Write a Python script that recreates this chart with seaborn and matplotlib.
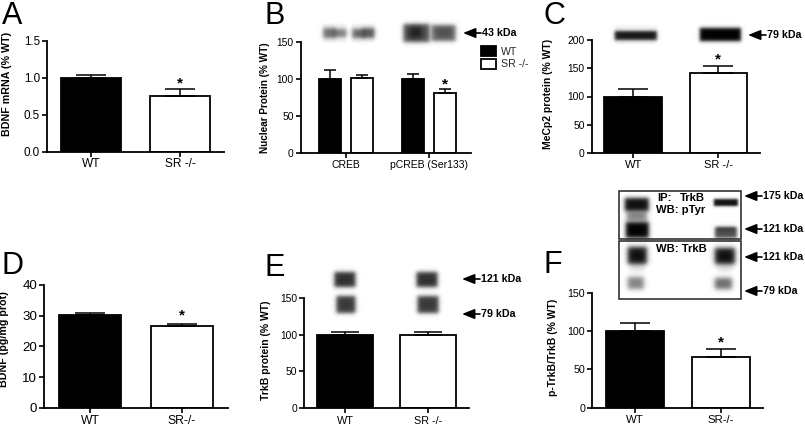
import numpy as np
import pandas as pd
import matplotlib
matplotlib.use("Agg")
import matplotlib.pyplot as plt
from matplotlib.patches import Rectangle
import seaborn as sns

W, H = 805, 428
sns.set_theme(style="ticks")
plt.rcParams["font.family"] = ["Liberation Sans", "DejaVu Sans"]

# ---- data ----
genotypes = ["WT", "SR -/-"]
genotypes_nospace = ["WT", "SR-/-"]
bdnf_mrna = [1.00, 0.76]
bdnf_mrna_err = [0.04, 0.09]
creb_groups = ["CREB", "pCREB (Ser133)"]
creb_wt = [100, 100]
creb_wt_err = [12, 7]
creb_sr = [101, 81]
creb_sr_err = [4, 5]
mecp2 = [100, 142]
mecp2_err = [14, 12]
bdnf_prot = [30.2, 26.5]
bdnf_prot_err = [0.8, 0.9]
trkb = [100, 100]
trkb_err = [4, 4]
ptrkb = [100, 66]
ptrkb_err = [10, 10]

fig = plt.figure(figsize=(W / 100, H / 100), dpi=100, facecolor="white")


def make_axes(left, right, top, bottom):
    ax = fig.add_axes([left / W, 1 - bottom / H, (right - left) / W, (bottom - top) / H])
    ax.set_facecolor("none")
    return ax


def style(ax, yticks, ytext, xsize, ysize, label, lx, ly, lsize=7.5, xpad=2):
    ax.set_ylim(yticks[0], yticks[-1])
    ax.set_yticks(yticks)
    ax.set_yticklabels(ytext)
    ax.tick_params(axis="y", labelsize=ysize, length=3.5, width=1.2, pad=1.5, color="black", labelcolor="black")
    ax.tick_params(axis="x", labelsize=xsize, length=3.5, width=1.2, pad=xpad, color="black", labelcolor="black")
    for s in ("top", "right"):
        ax.spines[s].set_visible(False)
    for s in ("left", "bottom"):
        ax.spines[s].set_linewidth(1.3)
        ax.spines[s].set_color("black")
    ax.set_xlabel("")
    ax.set_ylabel(label, fontsize=lsize, fontweight="bold", color="black")
    ax.yaxis.set_label_coords(lx / W, 1 - ly / H, transform=fig.transFigure)


def two_bars(ax, labels, values, errs, capsize, star_off, star_i=1):
    df = pd.DataFrame({"g": labels, "v": values})
    sns.barplot(data=df, x="g", y="v", hue="g", palette=["black", "white"], legend=False,
                width=0.675, errorbar=None, edgecolor="black", linewidth=1.3, ax=ax, order=labels)
    for i, (v, e) in enumerate(zip(values, errs)):
        ax.errorbar(i, v, yerr=[[0], [e]], color="black", elinewidth=1.1,
                    capsize=capsize, capthick=1.1, zorder=1)
    ax.annotate("*", (star_i, values[star_i] + errs[star_i]), xytext=(0, star_off),
                textcoords="offset points", ha="center", va="center",
                fontsize=11, fontweight="bold", color="black")


# A
axA = make_axes(47, 224, 40.7, 152)
two_bars(axA, genotypes, bdnf_mrna, bdnf_mrna_err, 11, 4)
axA.set_xlim(-0.5, 1.49)
style(axA, [0, 0.5, 1.0, 1.5], ["0.0", "0.5", "1.0", "1.5"], 8.6, 8.4, "BDNF mRNA (% WT)", 12, 84, 7.7, xpad=0.6)

# B
axB = make_axes(300.7, 470.7, 42, 153)
dfB = pd.DataFrame({"g": creb_groups * 2,
                    "k": ["WT"] * 2 + ["SR -/-"] * 2,
                    "v": creb_wt + creb_sr})
sns.barplot(data=dfB, x="g", y="v", hue="k", palette=["black", "white"], width=0.76, gap=0.30,
            errorbar=None, edgecolor="black", linewidth=1.3, ax=axB, legend=False)
offs = 31.5 / 83 / 2
for i in range(2):
    axB.errorbar(i - offs, creb_wt[i], yerr=[[0], [creb_wt_err[i]]], color="black",
                 elinewidth=1.1, capsize=4, capthick=1.1, zorder=1)
    axB.errorbar(i + offs, creb_sr[i], yerr=[[0], [creb_sr_err[i]]], color="black",
                 elinewidth=1.1, capsize=4, capthick=1.1, zorder=1)
axB.annotate("*", (1 + offs, creb_sr[1] + creb_sr_err[1]), xytext=(0, 3.2),
             textcoords="offset points", ha="center", va="center",
             fontsize=11, fontweight="bold", color="black")
axB.set_xlim(-0.543, 1.505)
style(axB, [0, 50, 100, 150], ["0", "50", "100", "150"], 7.5, 7.4, "Nuclear Protein (% WT)", 270, 98, 7.2, xpad=1.5)

# C
axC = make_axes(591.7, 760, 40, 153)
two_bars(axC, genotypes, mecp2, mecp2_err, 10.5, 5)
axC.set_xlim(-0.486, 1.49)
style(axC, [0, 50, 100, 150, 200], ["0", "50", "100", "150", "200"], 8, 7.4, "MeCp2 protein (% WT)", 553, 94, 7.5, xpad=1.5)

# D
axD = make_axes(44, 228, 285, 407.7)
two_bars(axD, genotypes_nospace, bdnf_prot, bdnf_prot_err, 11, 6)
axD.set_xlim(-0.5, 1.5)
style(axD, [0, 10, 20, 30, 40], ["0", "10", "20", "30", "40"], 8.7, 9.6, "BDNF (pg/mg prot)", 9, 339, 7.7)

# E
axE = make_axes(304, 469, 298, 408)
dfE = pd.DataFrame({"g": genotypes, "v": trkb})
sns.barplot(data=dfE, x="g", y="v", hue="g", palette=["black", "white"], legend=False, width=0.675,
            errorbar=None, edgecolor="black", linewidth=1.3, ax=axE, order=genotypes)
for i in range(2):
    axE.errorbar(i, trkb[i], yerr=[[0], [trkb_err[i]]], color="black", elinewidth=1.1,
                 capsize=10, capthick=1.1, zorder=1)
axE.set_xlim(-0.5, 1.5)
style(axE, [0, 50, 100, 150], ["0", "50", "100", "150"], 7.8, 7.4, "TrkB protein (% WT)", 271, 350, 7.5)

# F
axF = make_axes(592, 763, 292.7, 407.7)
two_bars(axF, genotypes_nospace, ptrkb, ptrkb_err, 10.5, 5)
axF.set_xlim(-0.5, 1.49)
style(axF, [0, 50, 100, 150], ["0", "50", "100", "150"], 8.2, 7.7, "p-TrkB/TrkB (% WT)", 558, 347.5, 7.5)

# ---- overlay in pixel coordinates ----
ov = fig.add_axes([0, 0, 1, 1], zorder=10)
ov.set_xlim(0, W)
ov.set_ylim(H, 0)
ov.axis("off")
ov.patch.set_alpha(0)

# western blot bands: x0, x1, y0, y1, density, softness
bands = [
    (322, 346, 24, 42, 0.05, 1), (351, 374, 24, 42, 0.05, 1),
    (323, 335, 28, 38, 0.55, 2.5), (333, 346, 29, 37, 0.50, 2.5),
    (352, 364, 29, 38, 0.60, 2.5), (362, 374, 28, 38, 0.65, 2.5),
    (403, 429, 24, 42, 0.70, 2.5), (409, 421, 27, 38, 0.60, 3),
    (431, 455, 25, 41, 0.60, 2.5), (436, 451, 28, 37, 0.25, 3),
    (614, 656, 25, 44, 0.04, 1), (698, 740, 25, 44, 0.04, 1),
    (614, 656, 31, 40, 0.92, 2), (699, 740, 28, 41, 1.00, 2),
    (334, 355, 272, 287, 0.82, 2.5), (336, 355, 296, 313, 0.78, 2.5),
    (416, 437, 272, 287, 0.82, 2.5), (417, 438, 296, 313, 0.78, 2.5),
    (624, 648, 198, 211, 0.95, 2.5), (626, 646, 211, 221, 0.50, 3),
    (625, 648, 222, 238, 1.00, 2.5), (713, 737, 199, 206, 0.95, 1.5),
    (714, 736, 227, 238, 0.70, 2), (716, 734, 227, 231, 0.30, 1.5),
    (627, 646, 247, 264, 0.95, 3), (630, 643, 262, 271, 0.12, 3),
    (627, 643, 277, 289, 0.50, 3), (714, 734, 248, 264, 0.95, 3),
    (717, 731, 262, 271, 0.12, 3), (714, 731, 278, 289, 0.60, 3),
]
yy, xx = np.mgrid[0:H, 0:W] + 0.5
dens = np.zeros((H, W))
for x0, x1, y0, y1, d, s in bands:
    b = (0.5 * (np.tanh((xx - x0) / s) - np.tanh((xx - x1) / s))
         * 0.5 * (np.tanh((yy - y0) / s) - np.tanh((yy - y1) / s)))
    dens = 1 - (1 - dens) * (1 - d * b)
rgba = np.zeros((H, W, 4))
rgba[..., 3] = np.clip(dens, 0, 1)
ov.imshow(rgba, extent=(0, W, H, 0), interpolation="bilinear", aspect="auto", zorder=2)
ov.set_xlim(0, W)
ov.set_ylim(H, 0)

# inset frames
for x0, x1, y0, y1 in [(619, 741, 190.7, 239), (619, 741, 241, 298.7)]:
    ov.add_patch(Rectangle((x0, y0), x1 - x0, y1 - y0, fill=False, ec="#222222", lw=1.1, zorder=3))

# panel letters
letters = [("A", 2, 16), ("B", 264, 16), ("C", 543, 16), ("D", 1, 266), ("E", 264, 268), ("F", 543, 265)]
for s, x, y in letters:
    ov.text(x, y, s, fontsize=22, color="black", ha="left", va="center", zorder=4)

# size arrows
arrows = [
    (463, 33, "43 kDa", 8), (748, 35, "79 kDa", 8),
    (462, 279, "121 kDa", 8), (462, 314, "79 kDa", 8),
    (744, 196, "175 kDa", 8), (744, 229, "121 kDa", 8),
    (744, 257, "121 kDa", 8), (744, 291, "79 kDa", 8),
]
for x, y, s, fs in arrows:
    ov.annotate("", xy=(x, y), xytext=(x + 18, y),
                arrowprops=dict(arrowstyle="-|>,head_length=0.75,head_width=0.3", color="black",
                                lw=1.2, shrinkA=0, shrinkB=0, mutation_scale=10), zorder=4)
    ov.text(x + 18.5, y, s, fontsize=fs - 0.3, fontweight="bold", color="black", ha="left",
            va="center", zorder=4)

# blot captions
for s, x, y in [("IP:", 657, 198), ("TrkB", 680, 198), ("WB: pTyr", 656, 210), ("WB: TrkB", 656, 249)]:
    ov.text(x, y, s, fontsize=8.1, fontweight="bold", color="black", ha="left", va="center", zorder=4)

# legend of panel B
handles = [Rectangle((0, 0), 1, 1, fc="black", ec="black", lw=1.3),
           Rectangle((0, 0), 1, 1, fc="white", ec="black", lw=1.3)]
fig.legend(handles, genotypes, loc="upper left", bbox_to_anchor=(479 / W, 1 - 44 / H),
           frameon=False, fontsize=7.6, handlelength=1.45, handleheight=1.05, handletextpad=0.4,
           labelspacing=0.22, borderpad=0.2, borderaxespad=0)

fig.savefig("out.png", dpi=100, facecolor="white")
